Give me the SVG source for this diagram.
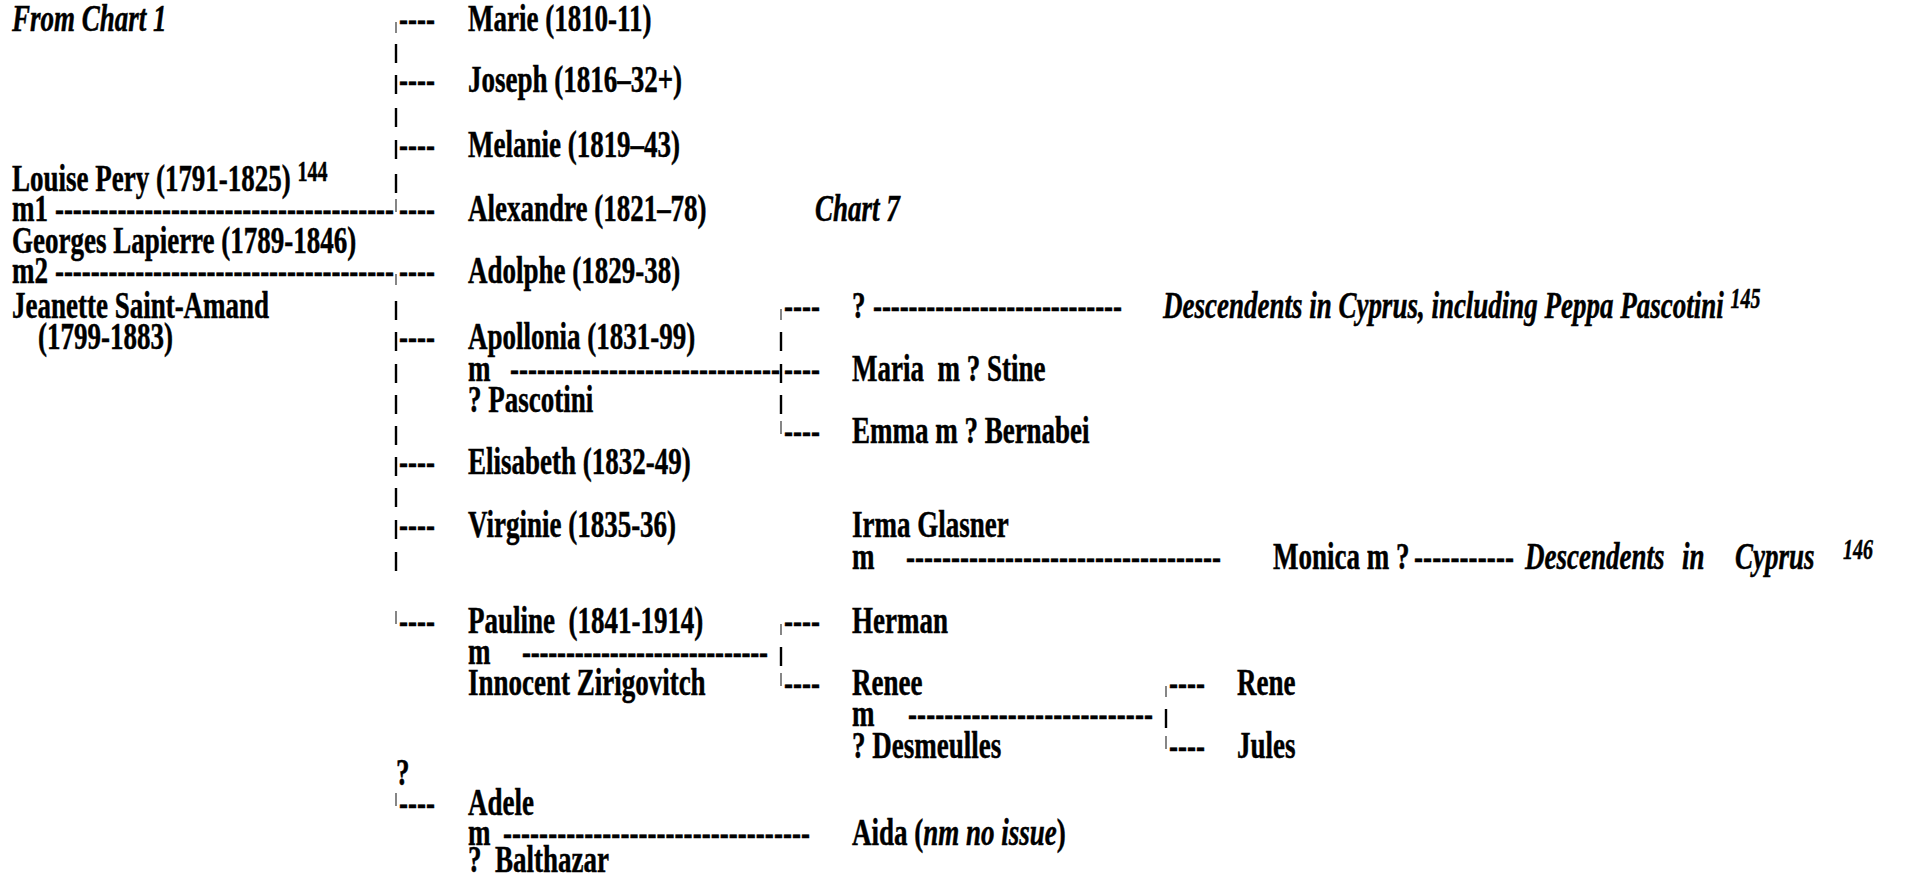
<svg xmlns="http://www.w3.org/2000/svg" width="1914" height="880" viewBox="0 0 1914 880">
<style>
text{font-family:"Liberation Serif","Times New Roman",serif;font-size:27px;font-weight:bold;fill:#000;stroke:#000;stroke-width:0.35px}
.i{font-style:italic}
.sup{font-size:20px}
.bar{stroke:#000;stroke-width:2.4}
.cor{stroke:#444;stroke-width:1.3}
</style>
<rect width="1914" height="880" fill="#fff"/>
<g id="connectors">
  <g id="bars">
    <line class="cor" x1="396" y1="22" x2="396" y2="33"/>
    <line class="bar" x1="396" y1="44" x2="396" y2="63"/>
    <line class="bar" x1="396" y1="75" x2="396" y2="94"/>
    <line class="bar" x1="396" y1="108" x2="396" y2="127"/>
    <line class="bar" x1="396" y1="140" x2="396" y2="159"/>
    <line class="bar" x1="396" y1="174" x2="396" y2="193"/>
    <line class="cor" x1="396" y1="199" x2="396" y2="212"/>
    <line class="cor" x1="396" y1="274" x2="396" y2="285"/>
    <line class="bar" x1="396" y1="301" x2="396" y2="320"/>
    <line class="bar" x1="396" y1="332" x2="396" y2="351"/>
    <line class="bar" x1="396" y1="364" x2="396" y2="383"/>
    <line class="bar" x1="396" y1="395" x2="396" y2="414"/>
    <line class="bar" x1="396" y1="426" x2="396" y2="445"/>
    <line class="bar" x1="396" y1="457" x2="396" y2="476"/>
    <line class="bar" x1="396" y1="488" x2="396" y2="507"/>
    <line class="bar" x1="396" y1="520" x2="396" y2="539"/>
    <line class="bar" x1="396" y1="552" x2="396" y2="571"/>
    <line class="cor" x1="396" y1="611" x2="396" y2="624"/>
    <line class="cor" x1="396" y1="793" x2="396" y2="806"/>
    <line class="cor" x1="781" y1="309" x2="781" y2="320"/>
    <line class="bar" x1="781" y1="332" x2="781" y2="351"/>
    <line class="bar" x1="781" y1="364" x2="781" y2="383"/>
    <line class="bar" x1="781" y1="395" x2="781" y2="414"/>
    <line class="cor" x1="781" y1="421" x2="781" y2="434"/>
    <line class="cor" x1="781" y1="624" x2="781" y2="635"/>
    <line class="bar" x1="781" y1="647" x2="781" y2="666"/>
    <line class="cor" x1="781" y1="673" x2="781" y2="686"/>
    <line class="cor" x1="1166" y1="686" x2="1166" y2="697"/>
    <line class="bar" x1="1166" y1="709" x2="1166" y2="728"/>
    <line class="cor" x1="1166" y1="736" x2="1166" y2="749"/>
  </g>
  <g id="dashes" transform="scale(1 1.42)">
    <text x="399" y="21.83" textLength="36" lengthAdjust="spacing">----</text>
    <text x="399" y="64.79" textLength="36" lengthAdjust="spacing">----</text>
    <text x="399" y="110.56" textLength="36" lengthAdjust="spacing">----</text>
    <text x="55" y="155.63" textLength="339" lengthAdjust="spacing">--------------------------------------</text>
    <text x="399" y="155.63" textLength="36" lengthAdjust="spacing">----</text>
    <text x="55" y="199.30" textLength="339" lengthAdjust="spacing">--------------------------------------</text>
    <text x="399" y="199.30" textLength="36" lengthAdjust="spacing">----</text>
    <text x="399" y="245.77" textLength="36" lengthAdjust="spacing">----</text>
    <text x="510" y="268.31" textLength="270" lengthAdjust="spacing">------------------------------</text>
    <text x="399" y="333.80" textLength="36" lengthAdjust="spacing">----</text>
    <text x="399" y="378.17" textLength="36" lengthAdjust="spacing">----</text>
    <text x="399" y="445.77" textLength="36" lengthAdjust="spacing">----</text>
    <text x="522" y="467.61" textLength="246" lengthAdjust="spacing">----------------------------</text>
    <text x="399" y="573.9" textLength="36" lengthAdjust="spacing">----</text>
    <text x="503" y="595.1" textLength="307" lengthAdjust="spacing">----------------------------------</text>
    <text x="784" y="223.94" textLength="36" lengthAdjust="spacing">----</text>
    <text x="784" y="268.31" textLength="36" lengthAdjust="spacing">----</text>
    <text x="784" y="311.97" textLength="36" lengthAdjust="spacing">----</text>
    <text x="873" y="223.94" textLength="249" lengthAdjust="spacing">----------------------------</text>
    <text x="906" y="400.70" textLength="315" lengthAdjust="spacing">-----------------------------------</text>
    <text x="1414" y="400.70" textLength="100" lengthAdjust="spacing">-----------</text>
    <text x="784" y="445.77" textLength="36" lengthAdjust="spacing">----</text>
    <text x="784" y="489.44" textLength="36" lengthAdjust="spacing">----</text>
    <text x="908" y="511.27" textLength="245" lengthAdjust="spacing">---------------------------</text>
    <text x="1169" y="489.44" textLength="36" lengthAdjust="spacing">----</text>
    <text x="1169" y="533.80" textLength="36" lengthAdjust="spacing">----</text>
  </g>
</g>
<g id="nodes" transform="scale(1 1.42)" font-family="'Liberation Serif', 'Times New Roman', serif">
  <g id="from-chart-1"><text class="i" x="12" y="21.83">From Chart 1</text></g>
  <g id="louise"><text x="12" y="134.51">Louise Pery (1791-1825) <tspan class="sup" dy="-7">144</tspan></text></g>
  <g id="m1"><text x="12" y="155.63">m1</text></g>
  <g id="georges"><text x="12" y="178.17">Georges Lapierre (1789-1846)</text></g>
  <g id="m2"><text x="12" y="199.30">m2</text></g>
  <g id="jeanette"><text x="12" y="223.94">Jeanette Saint-Amand</text><text x="38" y="245.77">(1799-1883)</text></g>
  <g id="marie"><text x="468" y="21.83">Marie (1810-11)</text></g>
  <g id="joseph"><text x="468" y="64.79">Joseph (1816–32+)</text></g>
  <g id="melanie"><text x="468" y="110.56">Melanie (1819–43)</text></g>
  <g id="alexandre"><text x="468" y="155.63">Alexandre (1821–78)</text></g>
  <g id="chart7"><text class="i" x="815" y="155.63">Chart 7</text></g>
  <g id="adolphe"><text x="468" y="199.30">Adolphe (1829-38)</text></g>
  <g id="apollonia"><text x="468" y="245.77">Apollonia (1831-99)</text><text x="468" y="268.31">m</text><text x="468" y="290.14">? Pascotini</text></g>
  <g id="elisabeth"><text x="468" y="333.80">Elisabeth (1832-49)</text></g>
  <g id="virginie"><text x="468" y="378.17">Virginie (1835-36)</text></g>
  <g id="pauline"><text x="468" y="445.77" xml:space="preserve">Pauline  (1841-1914)</text><text x="468" y="467.61">m</text><text x="468" y="489.44">Innocent Zirigovitch</text></g>
  <g id="adele-q"><text x="396" y="552.8">?</text></g>
  <g id="adele"><text x="468" y="573.9">Adele</text><text x="468" y="595.1">m</text><text x="468" y="614.1" xml:space="preserve">?  Balthazar</text></g>
  <g id="unknown-child"><text x="852" y="223.94">?</text></g>
  <g id="descendents-1"><text class="i" x="1163" y="223.94">Descendents in Cyprus, including Peppa Pascotini <tspan class="sup" dy="-7">145</tspan></text></g>
  <g id="maria"><text x="852" y="268.31" xml:space="preserve">Maria  m ? Stine</text></g>
  <g id="emma"><text x="852" y="311.97">Emma m ? Bernabei</text></g>
  <g id="irma"><text x="852" y="378.17">Irma Glasner</text><text x="852" y="400.70">m</text></g>
  <g id="monica"><text x="1273" y="400.70">Monica m ?</text></g>
  <g id="descendents-2"><text class="i" x="1525" y="400.70">Descendents</text><text class="i" x="1682" y="400.70">in</text><text class="i" x="1735" y="400.70">Cyprus</text><text class="i sup" x="1843" y="393.70">146</text></g>
  <g id="herman"><text x="852" y="445.77">Herman</text></g>
  <g id="renee"><text x="852" y="489.44">Renee</text><text x="852" y="511.27">m</text><text x="852" y="533.80">? Desmeulles</text></g>
  <g id="rene"><text x="1237" y="489.44">Rene</text></g>
  <g id="jules"><text x="1237" y="533.80">Jules</text></g>
  <g id="aida"><text x="852" y="595.1">Aida (<tspan class="i">nm no issue</tspan>)</text></g>
</g>
</svg>
